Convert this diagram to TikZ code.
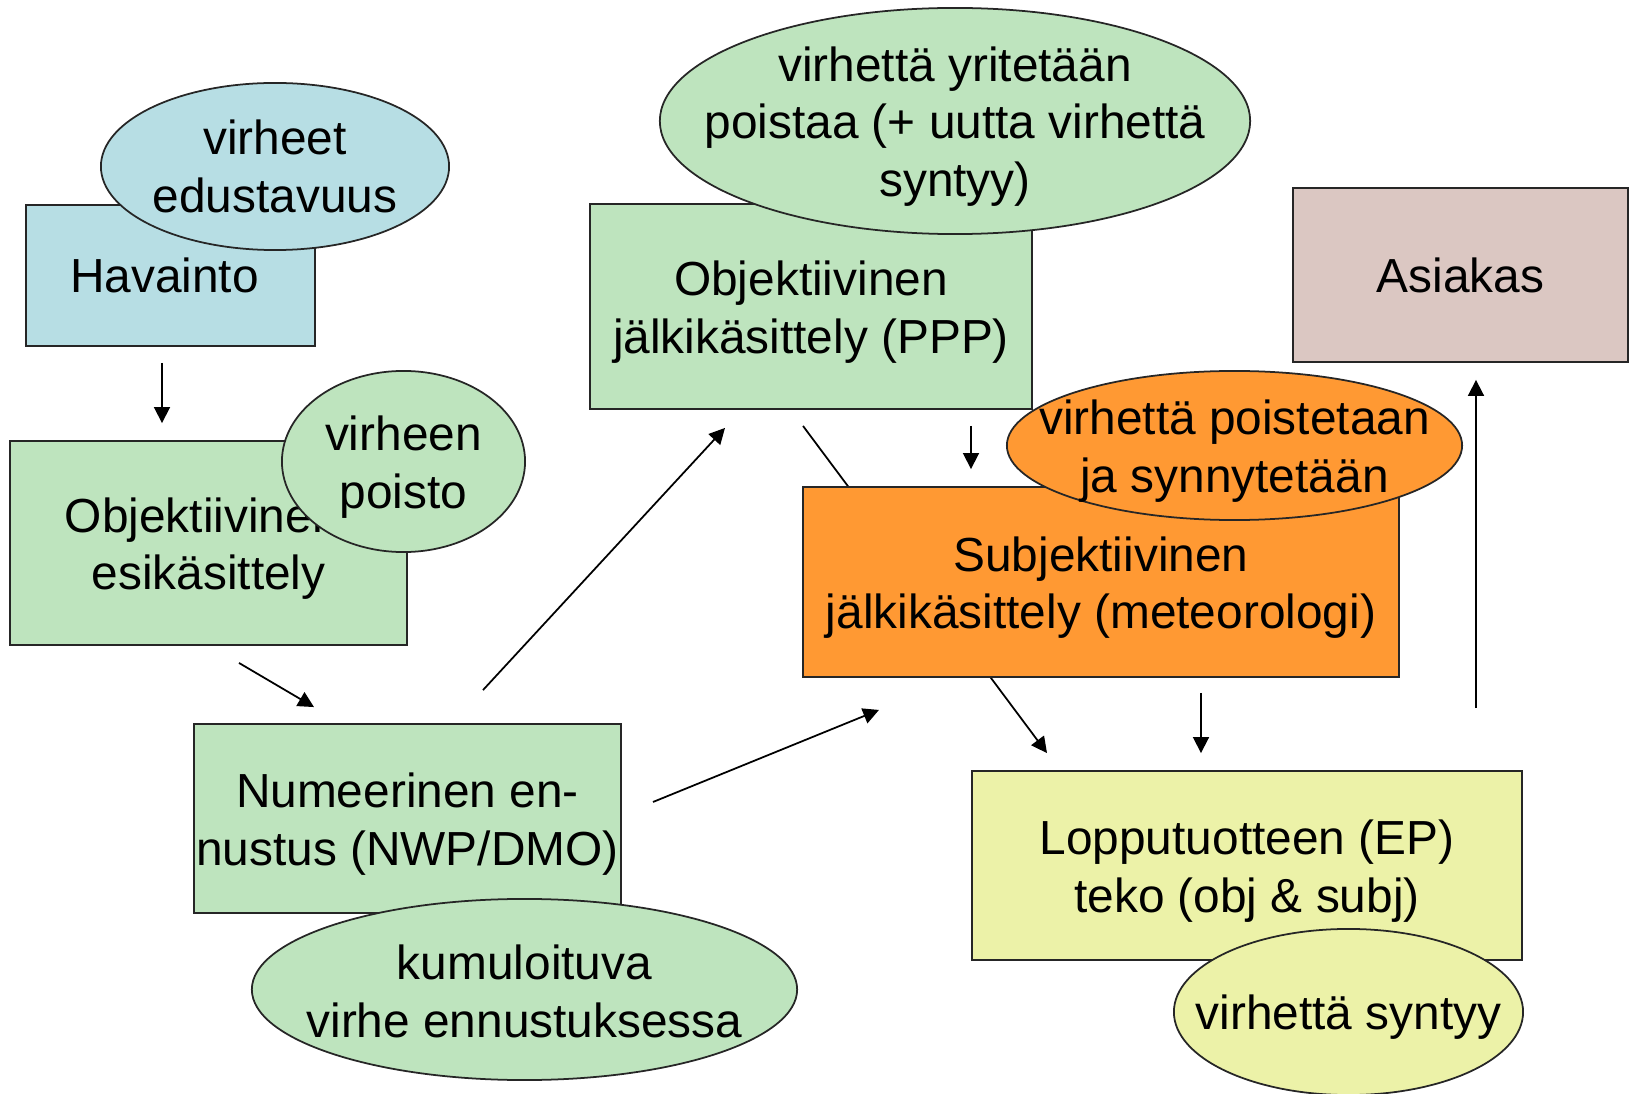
\documentclass[tikz,border=0pt]{standalone}
\usepackage{fontspec}
\setmainfont{Liberation Sans}
\usepackage{xcolor}
\usetikzlibrary{shapes.geometric,arrows.meta,calc,backgrounds}

\definecolor{obsblue}{RGB}{183,222,228}
\definecolor{procgreen}{RGB}{190,228,190}
\definecolor{subjorange}{RGB}{255,153,51}
\definecolor{prodyellow}{RGB}{236,242,168}
\definecolor{custrose}{RGB}{219,199,194}

\tikzset{
  stage/.style={draw=black!85, line width=0.5pt, rectangle, inner sep=0pt},
  errnote/.style={draw=black!85, line width=0.5pt, ellipse, inner sep=0pt},
  txt/.style={align=center, inner sep=0pt, yshift=-0.55mm, font=\fontsize{13.6}{16.3}\selectfont},
  flow/.style={-{Triangle[length=4.5pt,width=4.5pt]}, line width=0.5pt}
}

\begin{document}
\begin{tikzpicture}[x=0.01cm,y=-0.01cm]
\useasboundingbox (0,0) rectangle (1632,1094);
% left column
\node[stage, fill=obsblue, minimum width=28.9mm, minimum height=14.1mm, label={[txt,yshift=0.55mm,xshift=-0.6mm]center:{Havainto}}] (hav) at (170.5,275.5) {};
\node[errnote, fill=obsblue, minimum width=34.8mm, minimum height=16.7mm, label={[txt,yshift=0.55mm]center:{virheet\\edustavuus}}] (havErr) at (275,166.5) {};
\node[stage, fill=procgreen, minimum width=39.7mm, minimum height=20.4mm, label={[txt]center:{Objektiivinen\hspace*{0.278em}\\esikäsittely}}] (esik) at (208.5,543) {};
\node[errnote, fill=procgreen, minimum width=24.3mm, minimum height=18.1mm, label={[txt]center:{virheen\\poisto}}] (esikErr) at (403.5,461.5) {};
\node[stage, fill=procgreen, minimum width=42.7mm, minimum height=18.9mm, label={[txt]center:{Numeerinen en-\\nustus (NWP/DMO)}}] (num) at (407.5,818.5) {};
\node[errnote, fill=procgreen, minimum width=54.5mm, minimum height=18.1mm, label={[txt,yshift=0.35mm]center:{kumuloituva\\virhe ennustuksessa}}] (numErr) at (524.5,989.5) {};
% middle and right
\node[stage, fill=procgreen, minimum width=44.2mm, minimum height=20.5mm, label={[txt]center:{Objektiivinen\\jälkikäsittely (PPP)}}] (ppp) at (811,306.5) {};
\node[errnote, fill=procgreen, minimum width=59mm, minimum height=22.6mm, label={[txt]center:{virhettä yritetään\\poistaa (+ uutta virhettä\\syntyy)}}] (pppErr) at (955,121) {};
\node[stage, fill=custrose, minimum width=33.5mm, minimum height=17.4mm, label={[txt,yshift=0.55mm]center:{Asiakas}}] (asia) at (1460.5,275) {};
\node[stage, fill=subjorange, minimum width=59.6mm, minimum height=19mm, label={[txt]center:{Subjektiivinen\\jälkikäsittely (meteorologi)}}] (subj) at (1101,582) {};
\node[errnote, fill=subjorange, minimum width=45.5mm, minimum height=14.9mm, label={[txt]center:{virhettä poistetaan\\ja synnytetään}}] (subjErr) at (1234.5,445.5) {};
\node[stage, fill=prodyellow, minimum width=55mm, minimum height=18.9mm, label={[txt]center:{Lopputuotteen (EP)\\teko (obj \& subj)}}] (lopp) at (1247,865.5) {};
\node[errnote, fill=prodyellow, minimum width=34.9mm, minimum height=16.6mm, label={[txt]center:{virhettä syntyy}}] (loppErr) at (1348.5,1012) {};

\draw[flow] ($(hav.south)+(-8.5,16)$) -- ($(esik.north)+(-46.5,-17)$);
\draw[flow] ($(esik.south)+(30.5,17)$) -- ($(num.north)+(-93.5,-16)$);
\draw[flow] ($(num.north)+(75.5,-33)$) -- ($(ppp.south)+(-86,18)$);
\draw[flow] ($(num.east)+(31,-16.5)$) -- ($(subj.south)+(-222,32)$);
\draw[flow] ($(ppp.south)+(160,16)$) -- ($(subj.north)+(-130,-17)$);
\draw[flow] ($(subj.south)+(100,15)$) -- ($(lopp.north)+(-46,-17)$);
\draw[flow] ($(lopp.north)+(229,-62)$) -- ($(asia.south)+(15.5,17)$);
\begin{pgfonlayer}{background}
\draw[flow] ($(ppp.south)+(-8,16)$) -- ($(lopp.north)+(-200,-17)$);
\end{pgfonlayer}
\end{tikzpicture}
\end{document}
